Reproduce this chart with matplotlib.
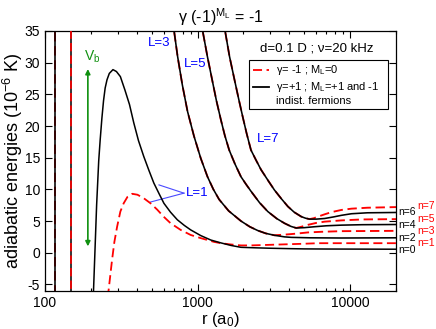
import matplotlib
matplotlib.use("Agg")
import matplotlib.pyplot as plt
from matplotlib.patches import Rectangle
from matplotlib.lines import Line2D
from matplotlib.ticker import FuncFormatter, NullFormatter
from matplotlib.transforms import blended_transform_factory

# ---- data (r in a0, energies in 1e-6 K) ----
# L=1, gamma=+1 (black) -> n=0
l1_black_r = [205, 208, 213, 218, 225, 230, 236, 242, 248, 255, 264, 279, 294, 312, 334,
              358, 382, 410, 444, 480, 517, 560, 602, 665, 737, 820, 902, 1050, 1222,
              1422, 1655, 1926, 2400, 3036, 4000, 5000, 7000, 10000, 20000]
l1_black_E = [-7, -6, 0.8, 7.5, 14.5, 17.8, 21.2, 24.0, 26.0, 27.3, 28.3, 28.9, 28.6, 27.8, 25.7,
              23.4, 20.5, 17.7, 15.2, 13.0, 11.0, 9.3, 7.8, 6.4, 5.2, 4.3, 3.6, 2.7, 2.0,
              1.55, 1.15, 0.85, 0.77, 0.7, 0.64, 0.6, 0.58, 0.57, 0.55]
# L=1, gamma=-1 (red dashed) -> n=1
l1_red_r = [250, 261, 275, 285, 297, 312, 328, 347, 373, 404, 444, 492, 544, 599, 666,
            775, 902, 1050, 1285, 1422, 1655, 1926, 2241, 3036, 4784, 6193, 20000]
l1_red_E = [-7, -6, -1.2, 1.7, 4.1, 6.5, 7.8, 8.8, 9.3, 9.15, 8.6, 7.8, 6.8, 5.7, 4.65,
            3.6, 2.8, 2.3, 1.7, 1.5, 1.3, 1.15, 1.15, 1.25, 1.4, 1.5, 1.5]

# L=3 : common part, then gamma=+1 -> n=2, gamma=-1 -> n=3
l3_r = [680, 700, 740, 795, 860, 948, 1050, 1162, 1270, 1386, 1600, 1926, 2200, 2481, 2800, 3192]
l3_E = [37, 35.2, 31.0, 26.5, 22.3, 18.4, 14.9, 12.0, 10.0, 8.4, 6.6, 5.0, 4.1, 3.5, 3.05, 2.75]
l3_black_r = [3714, 4111, 5500, 8777, 20000]
l3_black_E = [2.5, 2.42, 2.35, 2.32, 2.35]
l3_red_r = [3714, 4400, 5297, 6500, 8777, 20000]
l3_red_E = [2.85, 3.0, 3.2, 3.3, 3.4, 3.45]

# L=5 -> n=4 / n=5
l5_r = [1050, 1077, 1160, 1254, 1330, 1422, 1510, 1613, 1760, 1926, 2080, 2241, 2550,
        2888, 3300, 3714, 4100, 4436]
l5_E = [37, 35.2, 31.0, 27.0, 24.0, 21.0, 18.5, 16.2, 14.0, 12.0, 10.8, 9.7, 7.9,
        6.5, 5.4, 4.65, 4.15, 3.9]
l5_black_r = [5000, 5855, 7000, 8777, 12000, 20000]
l5_black_E = [3.95, 4.1, 4.25, 4.35, 4.42, 4.45]
l5_red_r = [4800, 5297, 6000, 6815, 8777, 12000, 20000]
l5_red_E = [4.1, 4.4, 4.7, 4.9, 5.1, 5.25, 5.3]

# L=7 -> n=6 / n=7
l7_r = [1480, 1511, 1620, 1740, 1860, 1976, 2100, 2241, 2420, 2609, 2900, 3192, 3550,
        3910, 4300, 4784, 5100, 5427]
l7_E = [37, 35.2, 31.0, 27.5, 24.3, 21.5, 18.8, 16.2, 14.6, 13.1, 11.4, 9.9, 8.5,
        7.3, 6.4, 5.7, 5.45, 5.3]
l7_black_r = [6000, 6815, 7800, 8777, 10214, 13000, 20000]
l7_black_E = [5.3, 5.4, 5.65, 5.9, 6.15, 6.3, 6.35]
l7_red_r = [5800, 6165, 6800, 7543, 8777, 10214, 13000, 20000]
l7_red_E = [5.45, 5.7, 6.05, 6.4, 6.75, 6.95, 7.1, 7.2]

# steep inner walls
wall1_r = [116.4, 116.4]
wall2_r = [148.3, 148.3]
wall_E = [37, -7]

# asymptote labels
n_black = ["n=0", "n=2", "n=4", "n=6"]
n_black_E = [0.45, 2.3, 4.3, 6.5]
n_red = ["n=1", "n=3", "n=5", "n=7"]
n_red_E = [1.5, 3.5, 5.3, 7.3]

plt.rcParams["font.family"] = ["Liberation Sans", "DejaVu Sans"]
plt.rcParams["mathtext.default"] = "regular"
plt.rcParams["axes.unicode_minus"] = False

RED = "#ff0000"
BLUE = "#0000ff"
GREEN = "#109010"
DASH = (5, 2.5)

fig = plt.figure(figsize=(4.36, 3.29), dpi=100)
ax = fig.add_axes([0.1032, 0.1164, 0.805, 0.7894])

def both(r_top, E_top, rb, Eb, rr, Er):
    # red dashed sits under the black line where the two curves coincide
    ax.plot(r_top + rr, E_top + Er, color=RED, lw=1.35, dashes=DASH, zorder=2)
    ax.plot(r_top + rb, E_top + Eb, color="black", lw=1.15, zorder=3)

ax.plot(wall1_r, wall_E, color=RED, lw=1.35, dashes=DASH, zorder=2)
ax.plot(wall1_r, wall_E, color="black", lw=1.15, zorder=3)
ax.plot(wall2_r, wall_E, color="black", lw=1.1, zorder=2)
ax.plot(wall2_r, wall_E, color=RED, lw=1.2, dashes=DASH, zorder=3)

ax.plot(l1_red_r, l1_red_E, color=RED, lw=1.3, dashes=DASH, zorder=3)
ax.plot(l1_black_r, l1_black_E, color="black", lw=1.1, zorder=3)
both(l3_r, l3_E, l3_black_r, l3_black_E, l3_red_r, l3_red_E)
both(l5_r, l5_E, l5_black_r, l5_black_E, l5_red_r, l5_red_E)
both(l7_r, l7_E, l7_black_r, l7_black_E, l7_red_r, l7_red_E)

# barrier arrow
ax.annotate("", xy=(191, 29.0), xytext=(191, 1.0),
            arrowprops=dict(arrowstyle="<|-|>", color=GREEN, lw=1.2,
                            mutation_scale=7, shrinkA=0, shrinkB=0))
ax.text(204, 29.6, "V$_b$", color=GREEN, fontsize=10, ha="center", va="bottom")

# L labels
ax.text(559, 33.1, "L=3", color=BLUE, fontsize=9.5, ha="center", va="center")
ax.text(958, 29.8, "L=5", color=BLUE, fontsize=9.5, ha="center", va="center")
ax.text(2888, 17.9, "L=7", color=BLUE, fontsize=9.5, ha="center", va="center")
ax.text(995, 9.4, "L=1", color=BLUE, fontsize=9.5, ha="center", va="center")
ax.plot([815, 559], [9.4, 10.7], color="#4a4aff", lw=0.8)
ax.plot([815, 492], [9.4, 8.0], color="#4a4aff", lw=0.8)

# n labels in the right margin
tr = blended_transform_factory(ax.transAxes, ax.transData)
for s, e in zip(n_black, n_black_E):
    ax.text(1.006, e, s, transform=tr, fontsize=7.5, ha="left", va="center", clip_on=False)
for s, e in zip(n_red, n_red_E):
    ax.text(1.062, e, s, transform=tr, fontsize=7.5, color=RED, ha="left", va="center", clip_on=False)

# legend drawn by hand
ax.text(0.774, 0.933, "d=0.1 D ; ν=20 kHz", transform=ax.transAxes, fontsize=9.5,
        ha="center", va="center")
ax.add_patch(Rectangle((0.582, 0.700), 0.396, 0.188, transform=ax.transAxes,
                       fill=True, facecolor="white", edgecolor="black", lw=0.8, zorder=5))
ax.add_line(Line2D([0.593, 0.638], [0.850, 0.850], transform=ax.transAxes, color=RED,
                   lw=1.3, dashes=DASH, zorder=6))
ax.add_line(Line2D([0.593, 0.638], [0.783, 0.783], transform=ax.transAxes, color="black",
                   lw=1.3, zorder=6))
ax.text(0.658, 0.850, "γ= -1 ; M$_L$=0", transform=ax.transAxes, fontsize=8,
        ha="left", va="center", zorder=6)
ax.text(0.658, 0.783, "γ=+1 ; M$_L$=+1 and -1", transform=ax.transAxes, fontsize=8,
        ha="left", va="center", zorder=6)
ax.text(0.658, 0.732, "indist. fermions", transform=ax.transAxes, fontsize=8,
        ha="left", va="center", zorder=6)

ax.set_xscale("log")
ax.set_xlim(100, 20000)
ax.set_ylim(-6, 35)
ax.set_yticks(range(-5, 36, 5))
ax.xaxis.set_major_formatter(FuncFormatter(lambda x, p: f"{x:.0f}"))
ax.xaxis.set_minor_formatter(NullFormatter())
ax.tick_params(which="both", direction="in", top=True, right=True, labelsize=10)
ax.tick_params(which="major", length=5, width=0.8)
ax.tick_params(which="minor", length=2.5, width=0.8)
for sp in ax.spines.values():
    sp.set_linewidth(0.9)

ax.set_title("γ (-1)$^{M_L}$ = -1", fontsize=11.5, pad=6)
ax.set_xlabel("r (a$_0$)", fontsize=12, labelpad=0)
ax.set_ylabel("adiabatic energies (10$^{-6}$ K)", fontsize=13, labelpad=0)

fig.savefig("out.png", dpi=100)
